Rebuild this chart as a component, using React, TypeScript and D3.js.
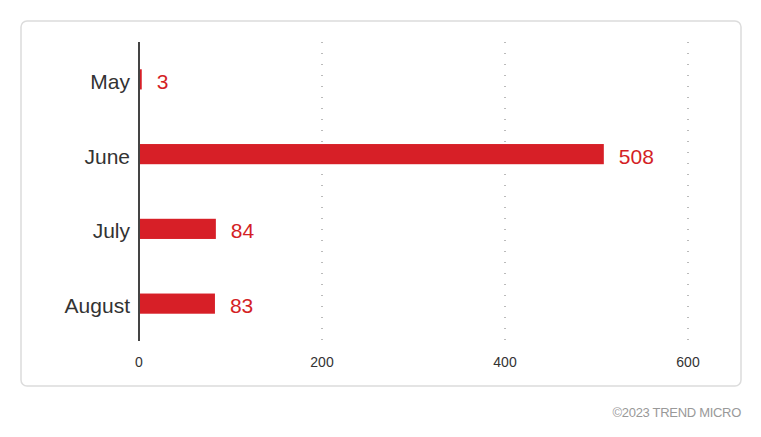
import { useEffect, useRef } from "react"
import * as d3 from "d3"

const months = ["May", "June", "July", "August"]
const counts = [3, 508, 84, 83]
const xTicks = [0, 200, 400, 600]

const App = () => {
  const svgRef = useRef<SVGSVGElement | null>(null)

  useEffect(() => {
    if (!svgRef.current) return
    document.body.style.margin = "0"

    const svg = d3.select(svgRef.current)
    svg.selectAll("*").remove()

    const width = 761
    const height = 437
    const font = "'Liberation Sans', Arial, sans-serif"

    // card
    svg
      .append("rect")
      .attr("x", 21)
      .attr("y", 21)
      .attr("width", 720)
      .attr("height", 365)
      .attr("rx", 6)
      .attr("fill", "#fff")
      .attr("stroke", "#dcdcdc")
      .attr("stroke-width", 1.5)

    const xScale = d3.scaleLinear().domain([0, 600]).range([139, 688])
    const yScale = d3.scaleBand().domain(months).range([42, 341]).paddingInner(0.73).paddingOuter(0.365)

    // dotted grid
    svg
      .append("g")
      .selectAll("line")
      .data(xTicks.slice(1))
      .join("line")
      .attr("x1", (d) => xScale(d))
      .attr("x2", (d) => xScale(d))
      .attr("y1", 42)
      .attr("y2", 341)
      .attr("stroke", "#777")
      .attr("stroke-width", 1)
      .attr("stroke-dasharray", "1,10")

    // bars
    svg
      .append("g")
      .selectAll("rect")
      .data(months)
      .join("rect")
      .attr("x", xScale(0))
      .attr("y", (d) => yScale(d)!)
      .attr("width", (_, i) => xScale(counts[i]) - xScale(0))
      .attr("height", yScale.bandwidth())
      .attr("fill", "#d71f27")

    // value labels
    svg
      .append("g")
      .selectAll("text")
      .data(months)
      .join("text")
      .attr("x", (_, i) => xScale(counts[i]) + 15)
      .attr("y", (d) => yScale(d)! + yScale.bandwidth() / 2 + 2)
      .attr("dy", "0.36em")
      .attr("fill", "#d41f26")
      .style("font-family", font)
      .style("font-size", "21px")
      .text((_, i) => counts[i])

    // category labels
    svg
      .append("g")
      .selectAll("text")
      .data(months)
      .join("text")
      .attr("x", 130)
      .attr("y", (d) => yScale(d)! + yScale.bandwidth() / 2 + 2)
      .attr("dy", "0.36em")
      .attr("text-anchor", "end")
      .attr("fill", "#333")
      .style("font-family", font)
      .style("font-size", "21px")
      .text((d) => d)

    // axis line
    svg
      .append("line")
      .attr("x1", xScale(0))
      .attr("x2", xScale(0))
      .attr("y1", 42)
      .attr("y2", 341)
      .attr("stroke", "#444")
      .attr("stroke-width", 2)

    // tick labels
    svg
      .append("g")
      .selectAll("text")
      .data(xTicks)
      .join("text")
      .attr("x", (d) => xScale(d))
      .attr("y", 367)
      .attr("text-anchor", "middle")
      .attr("fill", "#333")
      .style("font-family", font)
      .style("font-size", "14px")
      .text((d) => d)

    svg
      .append("text")
      .attr("x", 741)
      .attr("y", 417)
      .attr("text-anchor", "end")
      .attr("fill", "#999")
      .style("font-family", font)
      .style("font-size", "13px")
      .style("letter-spacing", "-0.3px")
      .text("©2023 TREND MICRO")

    svg.attr("width", width).attr("height", height)
  }, [])

  return <svg ref={svgRef} width={761} height={437} style={{ display: "block" }} />
}

export default App
